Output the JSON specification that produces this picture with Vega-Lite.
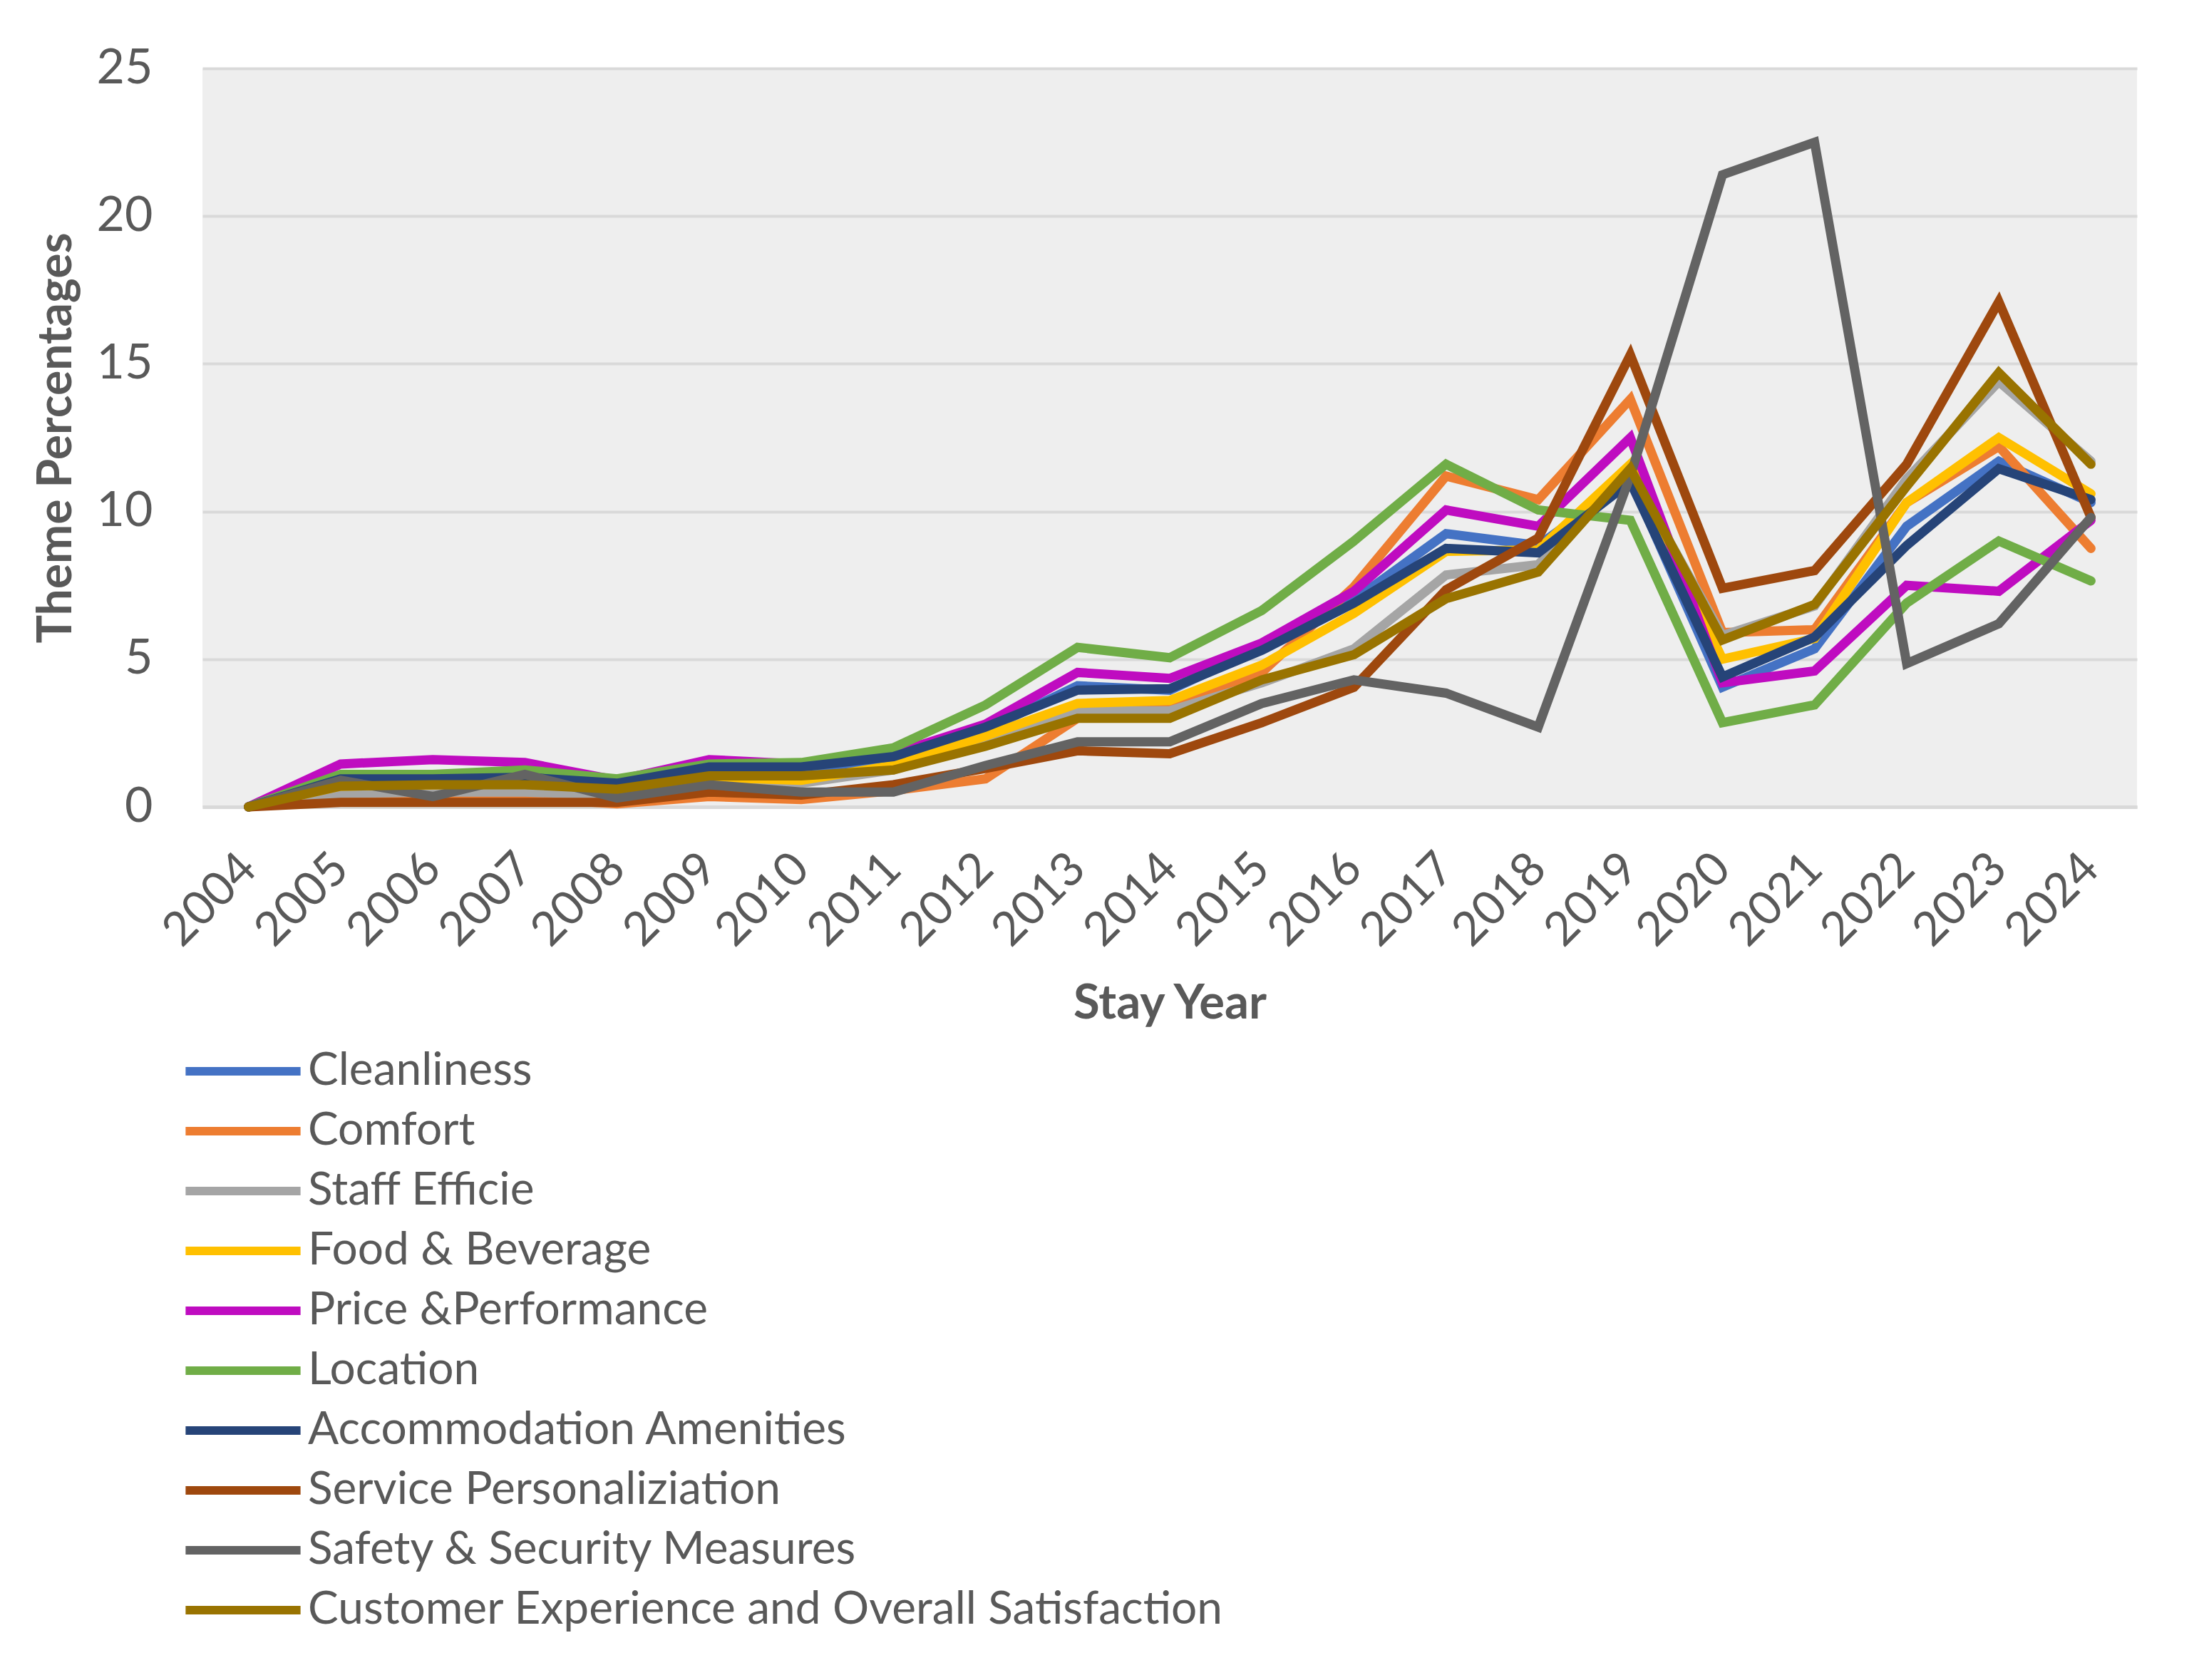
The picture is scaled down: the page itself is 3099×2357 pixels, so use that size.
{
  "$schema": "https://vega.github.io/schema/vega-lite/v6.json",
  "description": "Theme percentages by stay year",
  "width": 2714,
  "height": 1036,
  "autosize": {"type": "none"},
  "padding": {"left": 284, "top": 96, "right": 101, "bottom": 1225},
  "background": "white",
  "config": {
    "font": "Lato",
    "view": {"fill": "#eeeeee", "stroke": null},
    "axis": {"labelColor": "#595959", "titleColor": "#595959", "labelFont": "Lato", "titleFont": "Lato"}
  },
  "data": {
    "values": [
      {"year": "2004", "theme": "Cleanliness", "value": 0},
      {"year": "2005", "theme": "Cleanliness", "value": 0.85},
      {"year": "2006", "theme": "Cleanliness", "value": 0.9},
      {"year": "2007", "theme": "Cleanliness", "value": 0.95},
      {"year": "2008", "theme": "Cleanliness", "value": 0.75},
      {"year": "2009", "theme": "Cleanliness", "value": 1.25},
      {"year": "2010", "theme": "Cleanliness", "value": 1.25},
      {"year": "2011", "theme": "Cleanliness", "value": 1.6},
      {"year": "2012", "theme": "Cleanliness", "value": 2.6},
      {"year": "2013", "theme": "Cleanliness", "value": 4.1},
      {"year": "2014", "theme": "Cleanliness", "value": 3.95},
      {"year": "2015", "theme": "Cleanliness", "value": 5.4},
      {"year": "2016", "theme": "Cleanliness", "value": 7.0},
      {"year": "2017", "theme": "Cleanliness", "value": 9.25},
      {"year": "2018", "theme": "Cleanliness", "value": 8.85},
      {"year": "2019", "theme": "Cleanliness", "value": 11.1},
      {"year": "2020", "theme": "Cleanliness", "value": 4.05},
      {"year": "2021", "theme": "Cleanliness", "value": 5.35},
      {"year": "2022", "theme": "Cleanliness", "value": 9.5},
      {"year": "2023", "theme": "Cleanliness", "value": 11.7},
      {"year": "2024", "theme": "Cleanliness", "value": 10.3},

      {"year": "2004", "theme": "Comfort", "value": 0},
      {"year": "2005", "theme": "Comfort", "value": 0.3},
      {"year": "2006", "theme": "Comfort", "value": 0.2},
      {"year": "2007", "theme": "Comfort", "value": 0.3},
      {"year": "2008", "theme": "Comfort", "value": 0.1},
      {"year": "2009", "theme": "Comfort", "value": 0.35},
      {"year": "2010", "theme": "Comfort", "value": 0.25},
      {"year": "2011", "theme": "Comfort", "value": 0.55},
      {"year": "2012", "theme": "Comfort", "value": 0.95},
      {"year": "2013", "theme": "Comfort", "value": 3.0},
      {"year": "2014", "theme": "Comfort", "value": 3.5},
      {"year": "2015", "theme": "Comfort", "value": 4.55},
      {"year": "2016", "theme": "Comfort", "value": 7.45},
      {"year": "2017", "theme": "Comfort", "value": 11.2},
      {"year": "2018", "theme": "Comfort", "value": 10.4},
      {"year": "2019", "theme": "Comfort", "value": 13.8},
      {"year": "2020", "theme": "Comfort", "value": 5.9},
      {"year": "2021", "theme": "Comfort", "value": 6.0},
      {"year": "2022", "theme": "Comfort", "value": 10.3},
      {"year": "2023", "theme": "Comfort", "value": 12.2},
      {"year": "2024", "theme": "Comfort", "value": 8.75},

      {"year": "2004", "theme": "Staff Efficie", "value": 0},
      {"year": "2005", "theme": "Staff Efficie", "value": 0.45},
      {"year": "2006", "theme": "Staff Efficie", "value": 0.5},
      {"year": "2007", "theme": "Staff Efficie", "value": 0.5},
      {"year": "2008", "theme": "Staff Efficie", "value": 0.4},
      {"year": "2009", "theme": "Staff Efficie", "value": 0.8},
      {"year": "2010", "theme": "Staff Efficie", "value": 0.8},
      {"year": "2011", "theme": "Staff Efficie", "value": 1.25},
      {"year": "2012", "theme": "Staff Efficie", "value": 2.2},
      {"year": "2013", "theme": "Staff Efficie", "value": 3.25},
      {"year": "2014", "theme": "Staff Efficie", "value": 3.25},
      {"year": "2015", "theme": "Staff Efficie", "value": 4.2},
      {"year": "2016", "theme": "Staff Efficie", "value": 5.35},
      {"year": "2017", "theme": "Staff Efficie", "value": 7.85},
      {"year": "2018", "theme": "Staff Efficie", "value": 8.2},
      {"year": "2019", "theme": "Staff Efficie", "value": 11.35},
      {"year": "2020", "theme": "Staff Efficie", "value": 5.8},
      {"year": "2021", "theme": "Staff Efficie", "value": 6.8},
      {"year": "2022", "theme": "Staff Efficie", "value": 11.1},
      {"year": "2023", "theme": "Staff Efficie", "value": 14.4},
      {"year": "2024", "theme": "Staff Efficie", "value": 11.7},

      {"year": "2004", "theme": "Food & Beverage", "value": 0},
      {"year": "2005", "theme": "Food & Beverage", "value": 0.7},
      {"year": "2006", "theme": "Food & Beverage", "value": 0.75},
      {"year": "2007", "theme": "Food & Beverage", "value": 0.8},
      {"year": "2008", "theme": "Food & Beverage", "value": 0.6},
      {"year": "2009", "theme": "Food & Beverage", "value": 1.0},
      {"year": "2010", "theme": "Food & Beverage", "value": 0.9},
      {"year": "2011", "theme": "Food & Beverage", "value": 1.4},
      {"year": "2012", "theme": "Food & Beverage", "value": 2.4},
      {"year": "2013", "theme": "Food & Beverage", "value": 3.5},
      {"year": "2014", "theme": "Food & Beverage", "value": 3.6},
      {"year": "2015", "theme": "Food & Beverage", "value": 4.8},
      {"year": "2016", "theme": "Food & Beverage", "value": 6.55},
      {"year": "2017", "theme": "Food & Beverage", "value": 8.65},
      {"year": "2018", "theme": "Food & Beverage", "value": 8.7},
      {"year": "2019", "theme": "Food & Beverage", "value": 11.6},
      {"year": "2020", "theme": "Food & Beverage", "value": 5.0},
      {"year": "2021", "theme": "Food & Beverage", "value": 5.7},
      {"year": "2022", "theme": "Food & Beverage", "value": 10.3},
      {"year": "2023", "theme": "Food & Beverage", "value": 12.5},
      {"year": "2024", "theme": "Food & Beverage", "value": 10.6},

      {"year": "2004", "theme": "Price &Performance", "value": 0},
      {"year": "2005", "theme": "Price &Performance", "value": 1.45},
      {"year": "2006", "theme": "Price &Performance", "value": 1.6},
      {"year": "2007", "theme": "Price &Performance", "value": 1.5},
      {"year": "2008", "theme": "Price &Performance", "value": 0.9},
      {"year": "2009", "theme": "Price &Performance", "value": 1.6},
      {"year": "2010", "theme": "Price &Performance", "value": 1.45},
      {"year": "2011", "theme": "Price &Performance", "value": 1.8},
      {"year": "2012", "theme": "Price &Performance", "value": 2.8},
      {"year": "2013", "theme": "Price &Performance", "value": 4.55},
      {"year": "2014", "theme": "Price &Performance", "value": 4.35},
      {"year": "2015", "theme": "Price &Performance", "value": 5.55},
      {"year": "2016", "theme": "Price &Performance", "value": 7.3},
      {"year": "2017", "theme": "Price &Performance", "value": 10.05},
      {"year": "2018", "theme": "Price &Performance", "value": 9.5},
      {"year": "2019", "theme": "Price &Performance", "value": 12.5},
      {"year": "2020", "theme": "Price &Performance", "value": 4.2},
      {"year": "2021", "theme": "Price &Performance", "value": 4.6},
      {"year": "2022", "theme": "Price &Performance", "value": 7.5},
      {"year": "2023", "theme": "Price &Performance", "value": 7.3},
      {"year": "2024", "theme": "Price &Performance", "value": 9.7},

      {"year": "2004", "theme": "Location", "value": 0},
      {"year": "2005", "theme": "Location", "value": 1.1},
      {"year": "2006", "theme": "Location", "value": 1.1},
      {"year": "2007", "theme": "Location", "value": 1.25},
      {"year": "2008", "theme": "Location", "value": 0.95},
      {"year": "2009", "theme": "Location", "value": 1.45},
      {"year": "2010", "theme": "Location", "value": 1.5},
      {"year": "2011", "theme": "Location", "value": 2.0},
      {"year": "2012", "theme": "Location", "value": 3.45},
      {"year": "2013", "theme": "Location", "value": 5.4},
      {"year": "2014", "theme": "Location", "value": 5.05},
      {"year": "2015", "theme": "Location", "value": 6.65},
      {"year": "2016", "theme": "Location", "value": 9.0},
      {"year": "2017", "theme": "Location", "value": 11.6},
      {"year": "2018", "theme": "Location", "value": 10.05},
      {"year": "2019", "theme": "Location", "value": 9.7},
      {"year": "2020", "theme": "Location", "value": 2.85},
      {"year": "2021", "theme": "Location", "value": 3.45},
      {"year": "2022", "theme": "Location", "value": 6.9},
      {"year": "2023", "theme": "Location", "value": 9.0},
      {"year": "2024", "theme": "Location", "value": 7.65},

      {"year": "2004", "theme": "Accommodation Amenities", "value": 0},
      {"year": "2005", "theme": "Accommodation Amenities", "value": 0.95},
      {"year": "2006", "theme": "Accommodation Amenities", "value": 0.95},
      {"year": "2007", "theme": "Accommodation Amenities", "value": 1.0},
      {"year": "2008", "theme": "Accommodation Amenities", "value": 0.8},
      {"year": "2009", "theme": "Accommodation Amenities", "value": 1.35},
      {"year": "2010", "theme": "Accommodation Amenities", "value": 1.35},
      {"year": "2011", "theme": "Accommodation Amenities", "value": 1.7},
      {"year": "2012", "theme": "Accommodation Amenities", "value": 2.7},
      {"year": "2013", "theme": "Accommodation Amenities", "value": 3.95},
      {"year": "2014", "theme": "Accommodation Amenities", "value": 4.0},
      {"year": "2015", "theme": "Accommodation Amenities", "value": 5.3},
      {"year": "2016", "theme": "Accommodation Amenities", "value": 6.9},
      {"year": "2017", "theme": "Accommodation Amenities", "value": 8.75},
      {"year": "2018", "theme": "Accommodation Amenities", "value": 8.6},
      {"year": "2019", "theme": "Accommodation Amenities", "value": 11.0},
      {"year": "2020", "theme": "Accommodation Amenities", "value": 4.4},
      {"year": "2021", "theme": "Accommodation Amenities", "value": 5.75},
      {"year": "2022", "theme": "Accommodation Amenities", "value": 8.85},
      {"year": "2023", "theme": "Accommodation Amenities", "value": 11.45},
      {"year": "2024", "theme": "Accommodation Amenities", "value": 10.4},

      {"year": "2004", "theme": "Service Personaliziation", "value": 0},
      {"year": "2005", "theme": "Service Personaliziation", "value": 0.15},
      {"year": "2006", "theme": "Service Personaliziation", "value": 0.15},
      {"year": "2007", "theme": "Service Personaliziation", "value": 0.15},
      {"year": "2008", "theme": "Service Personaliziation", "value": 0.15},
      {"year": "2009", "theme": "Service Personaliziation", "value": 0.5},
      {"year": "2010", "theme": "Service Personaliziation", "value": 0.4},
      {"year": "2011", "theme": "Service Personaliziation", "value": 0.75},
      {"year": "2012", "theme": "Service Personaliziation", "value": 1.3},
      {"year": "2013", "theme": "Service Personaliziation", "value": 1.9},
      {"year": "2014", "theme": "Service Personaliziation", "value": 1.8},
      {"year": "2015", "theme": "Service Personaliziation", "value": 2.85},
      {"year": "2016", "theme": "Service Personaliziation", "value": 4.05},
      {"year": "2017", "theme": "Service Personaliziation", "value": 7.35},
      {"year": "2018", "theme": "Service Personaliziation", "value": 9.1},
      {"year": "2019", "theme": "Service Personaliziation", "value": 15.3},
      {"year": "2020", "theme": "Service Personaliziation", "value": 7.4},
      {"year": "2021", "theme": "Service Personaliziation", "value": 8.0},
      {"year": "2022", "theme": "Service Personaliziation", "value": 11.6},
      {"year": "2023", "theme": "Service Personaliziation", "value": 17.1},
      {"year": "2024", "theme": "Service Personaliziation", "value": 9.8},

      {"year": "2004", "theme": "Safety & Security Measures", "value": 0},
      {"year": "2005", "theme": "Safety & Security Measures", "value": 0.9},
      {"year": "2006", "theme": "Safety & Security Measures", "value": 0.35},
      {"year": "2007", "theme": "Safety & Security Measures", "value": 1.1},
      {"year": "2008", "theme": "Safety & Security Measures", "value": 0.3},
      {"year": "2009", "theme": "Safety & Security Measures", "value": 0.75},
      {"year": "2010", "theme": "Safety & Security Measures", "value": 0.5},
      {"year": "2011", "theme": "Safety & Security Measures", "value": 0.5},
      {"year": "2012", "theme": "Safety & Security Measures", "value": 1.4},
      {"year": "2013", "theme": "Safety & Security Measures", "value": 2.2},
      {"year": "2014", "theme": "Safety & Security Measures", "value": 2.2},
      {"year": "2015", "theme": "Safety & Security Measures", "value": 3.5},
      {"year": "2016", "theme": "Safety & Security Measures", "value": 4.3},
      {"year": "2017", "theme": "Safety & Security Measures", "value": 3.85},
      {"year": "2018", "theme": "Safety & Security Measures", "value": 2.7},
      {"year": "2019", "theme": "Safety & Security Measures", "value": 11.2},
      {"year": "2020", "theme": "Safety & Security Measures", "value": 21.4},
      {"year": "2021", "theme": "Safety & Security Measures", "value": 22.5},
      {"year": "2022", "theme": "Safety & Security Measures", "value": 4.85},
      {"year": "2023", "theme": "Safety & Security Measures", "value": 6.2},
      {"year": "2024", "theme": "Safety & Security Measures", "value": 9.8},

      {"year": "2004", "theme": "Customer Experience and Overall Satisfaction", "value": 0},
      {"year": "2005", "theme": "Customer Experience and Overall Satisfaction", "value": 0.7},
      {"year": "2006", "theme": "Customer Experience and Overall Satisfaction", "value": 0.75},
      {"year": "2007", "theme": "Customer Experience and Overall Satisfaction", "value": 0.75},
      {"year": "2008", "theme": "Customer Experience and Overall Satisfaction", "value": 0.6},
      {"year": "2009", "theme": "Customer Experience and Overall Satisfaction", "value": 1.05},
      {"year": "2010", "theme": "Customer Experience and Overall Satisfaction", "value": 1.05},
      {"year": "2011", "theme": "Customer Experience and Overall Satisfaction", "value": 1.25},
      {"year": "2012", "theme": "Customer Experience and Overall Satisfaction", "value": 2.05},
      {"year": "2013", "theme": "Customer Experience and Overall Satisfaction", "value": 3.0},
      {"year": "2014", "theme": "Customer Experience and Overall Satisfaction", "value": 3.0},
      {"year": "2015", "theme": "Customer Experience and Overall Satisfaction", "value": 4.3},
      {"year": "2016", "theme": "Customer Experience and Overall Satisfaction", "value": 5.15},
      {"year": "2017", "theme": "Customer Experience and Overall Satisfaction", "value": 7.05},
      {"year": "2018", "theme": "Customer Experience and Overall Satisfaction", "value": 7.95},
      {"year": "2019", "theme": "Customer Experience and Overall Satisfaction", "value": 11.45},
      {"year": "2020", "theme": "Customer Experience and Overall Satisfaction", "value": 5.65},
      {"year": "2021", "theme": "Customer Experience and Overall Satisfaction", "value": 6.85},
      {"year": "2022", "theme": "Customer Experience and Overall Satisfaction", "value": 10.85},
      {"year": "2023", "theme": "Customer Experience and Overall Satisfaction", "value": 14.7},
      {"year": "2024", "theme": "Customer Experience and Overall Satisfaction", "value": 11.6}
    ]
  },
  "mark": {"type": "line", "strokeWidth": 13, "strokeCap": "round", "strokeJoin": "miter"},
  "encoding": {
    "x": {
      "field": "year",
      "type": "ordinal",
      "scale": {"type": "point", "padding": 0.5},
      "axis": {
        "title": "Stay Year",
        "titleFontSize": 67,
        "titleFontWeight": "bold",
        "titlePadding": 43,
        "labelAngle": -45,
        "labelAlign": "right",
        "labelBaseline": "middle",
        "labelFontSize": 66,
        "labelPadding": 76,
        "ticks": false,
        "grid": false,
        "domainColor": "#d9d9d9",
        "domainWidth": 5
      }
    },
    "y": {
      "field": "value",
      "type": "quantitative",
      "scale": {"domain": [0, 25], "nice": false},
      "axis": {
        "title": "Theme Percentages",
        "titleFontSize": 66,
        "titleFontWeight": "bold",
        "titlePadding": 22,
        "values": [0, 5, 10, 15, 20, 25],
        "labelFontSize": 68,
        "labelPadding": 70,
        "ticks": false,
        "domain": false,
        "gridColor": "#d9d9d9",
        "gridWidth": 4
      }
    },
    "color": {
      "field": "theme",
      "type": "nominal",
      "scale": {
        "domain": ["Cleanliness", "Comfort", "Staff Efficie", "Food & Beverage", "Price &Performance", "Location", "Accommodation Amenities", "Service Personaliziation", "Safety & Security Measures", "Customer Experience and Overall Satisfaction"],
        "range": ["#4472C4", "#ED7D31", "#A5A5A5", "#FFC000", "#BF0CC0", "#70AD47", "#264478", "#9E480E", "#636363", "#997300"]
      },
      "legend": {
        "orient": "none",
        "legendX": 22,
        "legendY": 1372,
        "direction": "vertical",
        "title": null,
        "symbolType": "M-2.78,0H2.78",
        "symbolSize": 3364,
        "symbolStrokeWidth": 12,
        "labelFont": "Lato",
        "labelFontSize": 64,
        "labelColor": "#595959",
        "labelOffset": 56,
        "labelLimit": 0,
        "rowPadding": 17,
        "padding": 0
      }
    }
  }
}
